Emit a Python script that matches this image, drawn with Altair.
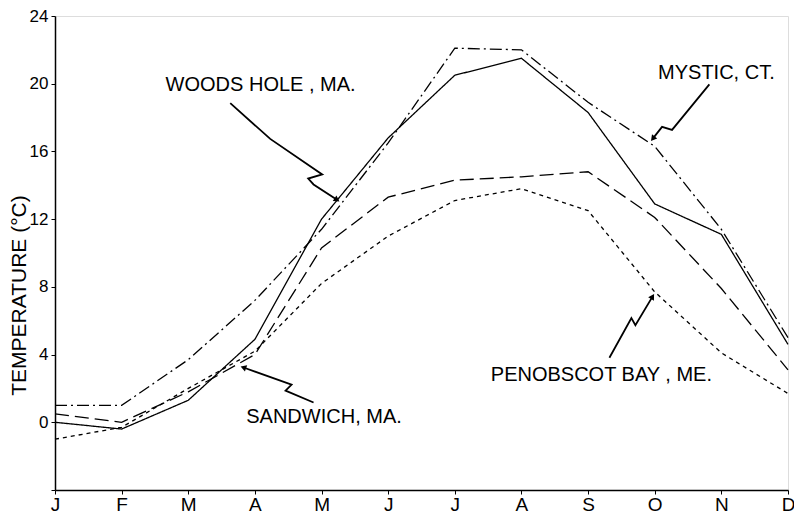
import altair as alt
import pandas as pd

# ---- data ----
month_labels = ["J", "F", "M", "A", "M", "J", "J", "A", "S", "O", "N", "D"]
month_index = list(range(12))

woods_hole = [0.0, -0.4, 1.3, 4.9, 12.0, 16.8, 20.5, 21.5, 18.3, 12.9, 11.1, 4.6]
mystic = [1.0, 1.0, 3.7, 7.2, 11.4, 16.5, 22.1, 22.0, 18.9, 16.3, 11.4, 5.0]
sandwich = [0.5, 0.0, 1.8, 4.0, 10.3, 13.3, 14.3, 14.5, 14.8, 12.1, 7.9, 3.1]
penobscot = [-1.0, -0.3, 2.0, 4.2, 8.2, 11.0, 13.1, 13.8, 12.5, 7.7, 4.1, 1.7]

series_names = ["Woods Hole", "Mystic", "Sandwich", "Penobscot Bay"]
series_dash = [[1, 0], [12, 4, 2, 4], [14, 6], [4, 4]]

# annotation labels (data units: month index, degC)
label_text = ["WOODS HOLE , MA.", "MYSTIC, CT.", "SANDWICH, MA.", "PENOBSCOT BAY , ME."]
label_month = [1.66, 9.05, 2.87, 6.54]
label_temp = [19.9, 20.65, 0.33, 2.8]

# hand-drawn arrows (data units)
arrow_name = ["wh"] * 6 + ["my"] * 4 + ["sa"] * 4 + ["pe"] * 4
arrow_month = [2.63, 3.23, 4.01, 3.80, 3.88, 4.22,
               9.82, 9.26, 9.11, 8.98,
               3.88, 3.46, 3.55, 2.84,
               8.32, 8.65, 8.71, 8.96]
arrow_temp = [18.85, 16.74, 14.64, 14.40, 14.05, 13.17,
              19.96, 17.27, 17.45, 16.80,
              1.17, 1.87, 2.22, 3.22,
              3.81, 6.15, 5.74, 7.38]
head_month = [4.22, 8.98, 2.84, 8.96]
head_temp = [13.17, 16.80, 3.22, 7.38]
head_angle = [123, 219, 290, 31]

# ---- tables ----
rows = []
for name, vals in zip(series_names, [woods_hole, mystic, sandwich, penobscot]):
    for m, v in zip(month_index, vals):
        rows.append({"series": name, "month": m, "temp": v})
df = pd.DataFrame(rows)

labels_df = pd.DataFrame({"text": label_text, "month": label_month, "temp": label_temp})
arrows_df = pd.DataFrame({"arrow": arrow_name, "month": arrow_month, "temp": arrow_temp,
                          "seq": list(range(len(arrow_name)))})
heads_df = pd.DataFrame({"month": head_month, "temp": head_temp, "angle": head_angle})

FONT = "Liberation Sans"
label_expr = "[" + ",".join("'%s'" % m for m in month_labels) + "][datum.value]"

x_enc = alt.X(
    "month:Q",
    scale=alt.Scale(domain=[0, 11], nice=False, zero=False),
    axis=alt.Axis(
        values=month_index, labelExpr=label_expr, title=None, grid=False,
        labelFontSize=19, labelFont=FONT, labelColor="black", labelPadding=1,
        tickColor="black", tickSize=4, domainColor="black", domainWidth=1.5,
        labelFlush=False,
    ),
)
y_enc = alt.Y(
    "temp:Q",
    scale=alt.Scale(domain=[-4, 24], nice=False, zero=False),
    axis=alt.Axis(
        values=list(range(-4, 25, 2)),
        labelExpr="datum.value >= 0 && datum.value % 4 == 0 ? datum.value : ''",
        title="TEMPERATURE (°C)", titleFont=FONT, titleFontSize=21, titleFontWeight="normal",
        titleColor="black", titleX=-36, titleY=279, titleBaseline="middle",
        grid=False, labelFontSize=17, labelFont=FONT, labelColor="black", labelPadding=3,
        tickColor="black", tickSize=4, domainColor="black", domainWidth=1.5,
        labelFlush=False,
    ),
)

lines = alt.Chart(df).mark_line(color="black", strokeWidth=1.3).encode(
    x=x_enc,
    y=y_enc,
    strokeDash=alt.StrokeDash(
        "series:N",
        scale=alt.Scale(domain=series_names, range=series_dash),
        legend=None,
    ),
    detail="series:N",
)

texts = alt.Chart(labels_df).mark_text(
    align="left", baseline="middle", font=FONT, fontSize=20, color="black"
).encode(x="month:Q", y="temp:Q", text="text:N")

arrows = alt.Chart(arrows_df).mark_line(color="black", strokeWidth=1.8).encode(
    x="month:Q", y="temp:Q", detail="arrow:N", order="seq:Q"
)

heads = alt.Chart(heads_df).mark_point(
    shape="triangle", filled=True, color="black", size=45, opacity=1
).encode(x="month:Q", y="temp:Q", angle=alt.Angle("angle:Q", scale=None))

chart = (
    alt.layer(lines, arrows, heads, texts)
    .properties(
        width=733, height=474,
        autosize=alt.AutoSizeParams(type="none"),
        padding={"left": 47, "top": 8, "right": 6, "bottom": 28},
    )
    .configure_view(stroke=None)
    .configure(background="white")
)

chart.save("out.html", embed_options={"renderer": "svg", "actions": False})
